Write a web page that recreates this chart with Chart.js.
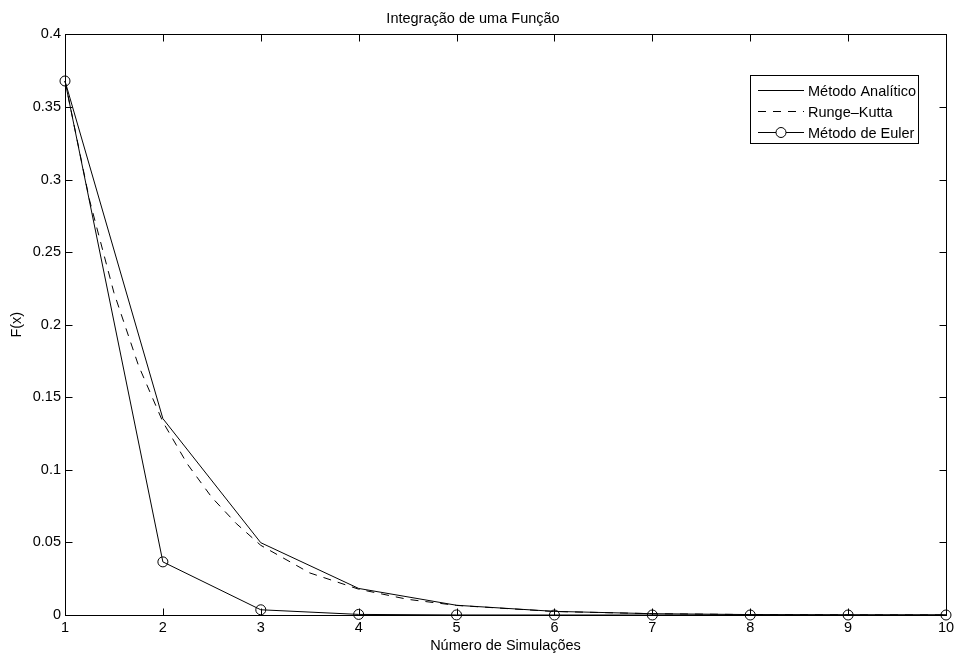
<!DOCTYPE html>
<html>
<head>
<meta charset="UTF-8">
<title>Integração de uma Função</title>
<script src="https://cdn.jsdelivr.net/npm/chart.js"></script>
<style>
    body { margin: 0; background: #fff; }
    #wrap { width: 955px; height: 655px; }
</style>
</head>
<body>
<div id="wrap">
    <canvas id="myChart"></canvas>
</div>

<script>
    // tick labels
    const xTicks = [1, 2, 3, 4, 5, 6, 7, 8, 9, 10];
    const yTicks = [0, 0.05, 0.1, 0.15, 0.2, 0.25, 0.3, 0.35, 0.4];
    const yTickLabels = ['0', '0.05', '0.1', '0.15', '0.2', '0.25', '0.3', '0.35', '0.4'];

    // series
    const simulacoes = [1, 2, 3, 4, 5, 6, 7, 8, 9, 10];
    const analitico = [0.3679, 0.1353, 0.0498, 0.0183, 0.0067, 0.0025, 0.0009, 0.0003, 0.0001, 0.00005];
    const eulerY = [0.3679, 0.0366, 0.0036, 0.0004, 0.00004, 0, 0, 0, 0, 0];
    const rkX = [1, 1.25, 1.5, 1.75, 2, 2.25, 2.5, 2.75, 3, 3.5, 4, 4.5, 5, 6, 7, 8, 9, 10];
    const rkY = [0.3679, 0.286, 0.222, 0.172, 0.133, 0.104, 0.081, 0.063, 0.048, 0.029, 0.0178, 0.0108, 0.0066, 0.0024, 0.0009, 0.0003, 0.0001, 0.00005];

    const labels = ['Método Analítico', 'Runge\u2013Kutta', 'Método de Euler'];

    const toPoints = (xs, ys) => xs.map((v, i) => ({x: v, y: ys[i]}));

    Chart.defaults.font.family = '"Liberation Sans", Arial, Helvetica, sans-serif';
    Chart.defaults.font.size = 14.5;
    Chart.defaults.color = '#000';

    const data = {
        datasets: [
            {
                label: labels[0],
                data: toPoints(simulacoes, analitico),
                borderColor: '#000',
                borderWidth: 1,
                pointRadius: 0,
                clip: false
            },
            {
                label: labels[1],
                data: toPoints(rkX, rkY),
                borderColor: '#000',
                borderWidth: 1,
                borderDash: [8, 7],
                pointRadius: 0,
                clip: false
            },
            {
                label: labels[2],
                data: toPoints(simulacoes, eulerY),
                borderColor: '#000',
                borderWidth: 1,
                pointRadius: 5,
                pointBorderWidth: 1,
                pointBorderColor: '#000',
                pointBackgroundColor: 'rgba(0,0,0,0)',
                clip: false
            }
        ]
    };

    // matlab-style box, inward ticks and legend
    const matlabBox = {
        id: 'matlabBox',
        afterDraw(chart) {
            const {ctx, chartArea: a, scales: {x, y}} = chart;
            const L = Math.round(a.left) + 0.5, R = Math.round(a.right) + 0.5;
            const T = Math.round(a.top) + 0.5, B = Math.round(a.bottom) + 0.5;
            ctx.save();
            ctx.strokeStyle = '#000';
            ctx.lineWidth = 1;
            ctx.setLineDash([]);
            ctx.beginPath();
            xTicks.forEach(v => {
                const px = Math.round(x.getPixelForValue(v)) + 0.5;
                ctx.moveTo(px, B); ctx.lineTo(px, B - 7);
                ctx.moveTo(px, T); ctx.lineTo(px, T + 7);
            });
            yTicks.forEach(v => {
                const py = Math.round(y.getPixelForValue(v)) + 0.5;
                ctx.moveTo(L, py); ctx.lineTo(L + 7, py);
                ctx.moveTo(R, py); ctx.lineTo(R - 7, py);
            });
            ctx.stroke();
            ctx.strokeRect(L, T, R - L, B - T);

            // legend
            const bx = 750.5, by = 75.5, bw = 168, bh = 68;
            ctx.fillStyle = '#fff';
            ctx.fillRect(bx, by, bw, bh);
            ctx.strokeRect(bx, by, bw, bh);
            ctx.font = '14.5px "Liberation Sans", Arial, sans-serif';
            ctx.textBaseline = 'middle';
            ctx.textAlign = 'left';
            chart.data.datasets.forEach((ds, i) => {
                const ry = Math.round(by + 14 + i * 21) + 0.5;
                ctx.beginPath();
                ctx.setLineDash(ds.borderDash || []);
                ctx.moveTo(758, ry);
                ctx.lineTo(804, ry);
                ctx.stroke();
                ctx.setLineDash([]);
                if (ds.pointRadius) {
                    ctx.beginPath();
                    ctx.fillStyle = '#fff';
                    ctx.arc(781, ry, ds.pointRadius, 0, Math.PI * 2);
                    ctx.fill();
                    ctx.stroke();
                }
                ctx.fillStyle = '#000';
                ctx.fillText(ds.label, 808, ry + 1);
            });
            ctx.restore();
        }
    };

    const config = {
        type: 'line',
        data: data,
        options: {
            responsive: true,
            maintainAspectRatio: false,
            animation: false,
            layout: {
                padding: {left: 0, right: 9, top: 0, bottom: 0}
            },
            plugins: {
                legend: {display: false},
                tooltip: {enabled: false},
                title: {
                    display: true,
                    text: 'Integração de uma Função',
                    font: {size: 14.5, weight: 'normal'},
                    padding: {top: 10, bottom: 7}
                }
            },
            scales: {
                x: {
                    type: 'linear',
                    min: 1,
                    max: 10,
                    afterBuildTicks: s => { s.ticks = xTicks.map(v => ({value: v})); },
                    afterFit: s => { s.height = 40; s.paddingLeft = 0; s.paddingRight = 0; },
                    grid: {display: false, drawTicks: false},
                    border: {display: false},
                    ticks: {padding: 4, maxRotation: 0, autoSkip: false, callback: v => String(v)},
                    title: {
                        display: true,
                        text: 'Número de Simulações',
                        padding: {top: 0, bottom: 0}
                    }
                },
                y: {
                    min: 0,
                    max: 0.4,
                    afterBuildTicks: s => { s.ticks = yTicks.map(v => ({value: v})); },
                    afterFit: s => { s.width = 65; s.paddingTop = 0; s.paddingBottom = 0; },
                    grid: {display: false, drawTicks: false},
                    border: {display: false},
                    ticks: {
                        padding: 4,
                        autoSkip: false,
                        callback: v => yTickLabels[yTicks.indexOf(v)]
                    },
                    title: {
                        display: true,
                        text: 'F(x)',
                        padding: {top: 8, bottom: 0}
                    }
                }
            }
        },
        plugins: [matlabBox]
    };

    const chart = new Chart(document.getElementById('myChart'), config);
</script>
</body>
</html>
